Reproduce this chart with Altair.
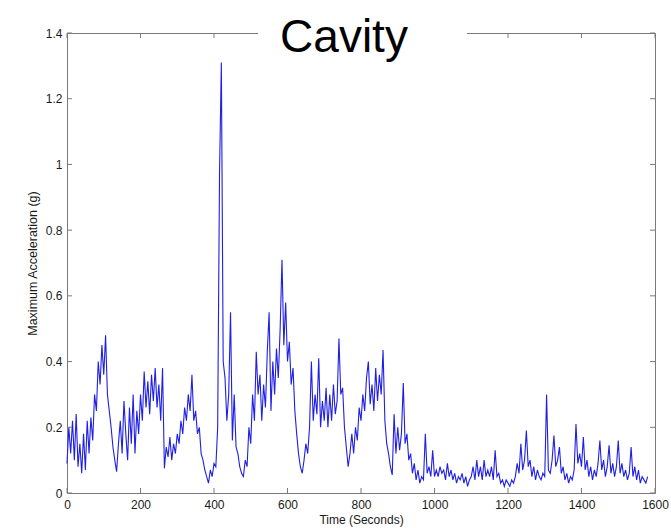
import altair as alt
import pandas as pd

TITLE = "Cavity"
X_TITLE = "Time (Seconds)"
Y_TITLE = "Maximum Acceleration (g)"
X_TICKS = [0, 200, 400, 600, 800, 1000, 1200, 1400, 1600]
Y_TICKS = [0, 0.2, 0.4, 0.6, 0.8, 1.0, 1.2, 1.4]

STEP_S = 5
accel = [
    # 0-45
    0.09, 0.20, 0.12, 0.22, 0.10, 0.24, 0.08, 0.15, 0.06, 0.18,
    # 50-95
    0.07, 0.22, 0.12, 0.23, 0.16, 0.30, 0.25, 0.40, 0.33, 0.45,
    # 100-145
    0.36, 0.48, 0.30, 0.25, 0.20, 0.14, 0.10, 0.065, 0.15, 0.22,
    # 150-195
    0.12, 0.28, 0.18, 0.10, 0.26, 0.15, 0.30, 0.12, 0.25, 0.18,
    # 200-245
    0.30, 0.22, 0.37, 0.26, 0.34, 0.24, 0.36, 0.28, 0.38, 0.26,
    # 250-295
    0.33, 0.22, 0.38, 0.075, 0.14, 0.11, 0.17, 0.10, 0.15, 0.12,
    # 300-345
    0.18, 0.15, 0.22, 0.18, 0.26, 0.22, 0.30, 0.25, 0.36, 0.22,
    # 350-395
    0.25, 0.18, 0.20, 0.12, 0.10, 0.07, 0.05, 0.03, 0.07, 0.05,
    # 400-445
    0.09, 0.08, 0.20, 0.97, 1.31, 0.40, 0.35, 0.22, 0.30, 0.55,
    # 450-495
    0.16, 0.30, 0.14, 0.12, 0.08, 0.06, 0.05, 0.10, 0.08, 0.20,
    # 500-545
    0.15, 0.30, 0.22, 0.43, 0.30, 0.36, 0.22, 0.33, 0.26, 0.43,
    # 550-595
    0.55, 0.25, 0.40, 0.30, 0.44, 0.35, 0.50, 0.71, 0.45, 0.58,
    # 600-645
    0.40, 0.46, 0.33, 0.38, 0.25, 0.18, 0.12, 0.08, 0.06, 0.10,
    # 650-695
    0.15, 0.12, 0.20, 0.40, 0.22, 0.30, 0.24, 0.41, 0.20, 0.28,
    # 700-745
    0.22, 0.32, 0.20, 0.30, 0.22, 0.33, 0.24, 0.28, 0.47, 0.30,
    # 750-795
    0.32, 0.20, 0.14, 0.08, 0.12, 0.18, 0.12, 0.20, 0.16, 0.26,
    # 800-845
    0.22, 0.30, 0.25, 0.35, 0.40, 0.27, 0.33, 0.25, 0.38, 0.28,
    # 850-895
    0.36, 0.30, 0.435, 0.22, 0.15, 0.12, 0.08, 0.055, 0.24, 0.12,
    # 900-945
    0.20, 0.13, 0.18, 0.335, 0.15, 0.18, 0.10, 0.12, 0.06, 0.09,
    # 950-995
    0.04, 0.07, 0.03, 0.05, 0.04, 0.18, 0.06, 0.08, 0.05, 0.13,
    # 1000-1045
    0.05, 0.07, 0.05, 0.08, 0.06, 0.07, 0.04, 0.09, 0.05, 0.07,
    # 1050-1095
    0.04, 0.06, 0.03, 0.05, 0.04, 0.06, 0.03, 0.05, 0.02, 0.04,
    # 1100-1145
    0.05, 0.08, 0.04, 0.10, 0.05, 0.08, 0.04, 0.10, 0.05, 0.07,
    # 1150-1195
    0.05, 0.08, 0.04, 0.13, 0.05, 0.06, 0.03, 0.04, 0.02, 0.04,
    # 1200-1245
    0.03, 0.02, 0.04, 0.03, 0.05, 0.09, 0.06, 0.15, 0.07, 0.10,
    # 1250-1295
    0.19, 0.08, 0.10, 0.05, 0.08, 0.04, 0.07, 0.05, 0.04, 0.06,
    # 1300-1345
    0.05, 0.30, 0.07, 0.06, 0.10, 0.175, 0.08, 0.10, 0.14, 0.06,
    # 1350-1395
    0.08, 0.04, 0.06, 0.03, 0.05, 0.04, 0.07, 0.21, 0.09, 0.12,
    # 1400-1445
    0.08, 0.17, 0.07, 0.10, 0.05, 0.08, 0.04, 0.07, 0.05, 0.09,
    # 1450-1495
    0.16, 0.07, 0.10, 0.05, 0.08, 0.145, 0.06, 0.09, 0.05, 0.08,
    # 1500-1545
    0.16, 0.06, 0.09, 0.05, 0.07, 0.04, 0.06, 0.14, 0.05, 0.08,
    # 1550-1580
    0.04, 0.07, 0.03, 0.05, 0.04, 0.03, 0.05,
]
times = [i * STEP_S for i in range(len(accel))]

df = pd.DataFrame({"t": times, "v": accel})
xt = pd.DataFrame({"t": X_TICKS})
yt = pd.DataFrame({"v": Y_TICKS})
one = pd.DataFrame({"k": [0]})
ttl = pd.DataFrame({"label": [TITLE]})

W, H = 588, 460
TXT = "#1a1a1a"
FONT = "Liberation Sans"

xscale = alt.Scale(domain=[0, 1600], nice=False, zero=False)
yscale = alt.Scale(domain=[0, 1.4], nice=False)

line = alt.Chart(df).mark_line(color="#1f1fe6", strokeWidth=1.1).encode(
    x=alt.X("t:Q", scale=xscale,
            axis=alt.Axis(values=X_TICKS, ticks=False, domain=False, grid=False,
                          title=X_TITLE, labelFontSize=12, titleFontSize=12,
                          labelPadding=6, titlePadding=4, labelColor=TXT,
                          titleColor=TXT, labelFont=FONT, titleFont=FONT,
                          titleFontWeight="normal", format="d",
                          labelFlush=False)),
    y=alt.Y("v:Q", scale=yscale,
            axis=alt.Axis(values=Y_TICKS, ticks=False, domain=False, grid=False,
                          title=Y_TITLE, labelFontSize=12, titleFontSize=12.5,
                          labelPadding=5, titlePadding=6, labelColor=TXT,
                          titleColor=TXT, labelFont=FONT, titleFont=FONT,
                          titleFontWeight="normal", format="~g",
                          labelFlush=False)),
)

tick_color = "#7a7a7a"
tb = alt.Chart(xt).mark_rule(color=tick_color, strokeWidth=1).encode(
    x=alt.X("t:Q", scale=xscale), y=alt.value(H), y2=alt.value(H - 5))
tt = alt.Chart(xt).mark_rule(color=tick_color, strokeWidth=1).encode(
    x=alt.X("t:Q", scale=xscale), y=alt.value(0), y2=alt.value(5))
tl = alt.Chart(yt).mark_rule(color=tick_color, strokeWidth=1).encode(
    y=alt.Y("v:Q", scale=yscale), x=alt.value(0), x2=alt.value(5))
tr = alt.Chart(yt).mark_rule(color=tick_color, strokeWidth=1).encode(
    y=alt.Y("v:Q", scale=yscale), x=alt.value(W), x2=alt.value(W - 5))

gap = alt.Chart(one).mark_rect(color="white").encode(
    x=alt.value(191), x2=alt.value(400), y=alt.value(-6), y2=alt.value(7))

title = alt.Chart(ttl).mark_text(fontSize=46, font=FONT, color="black",
                                 baseline="alphabetic", align="center").encode(
    text="label:N", x=alt.value(277), y=alt.value(19))

chart = alt.layer(line, tb, tt, tl, tr, gap, title).properties(
    width=W, height=H, autosize="none",
    padding={"left": 67, "top": 33, "right": 16, "bottom": 35},
    background="white",
).configure_view(stroke="#7a7a7a", strokeWidth=1)

chart.save("out.html", embed_options={"renderer": "svg", "actions": False})
